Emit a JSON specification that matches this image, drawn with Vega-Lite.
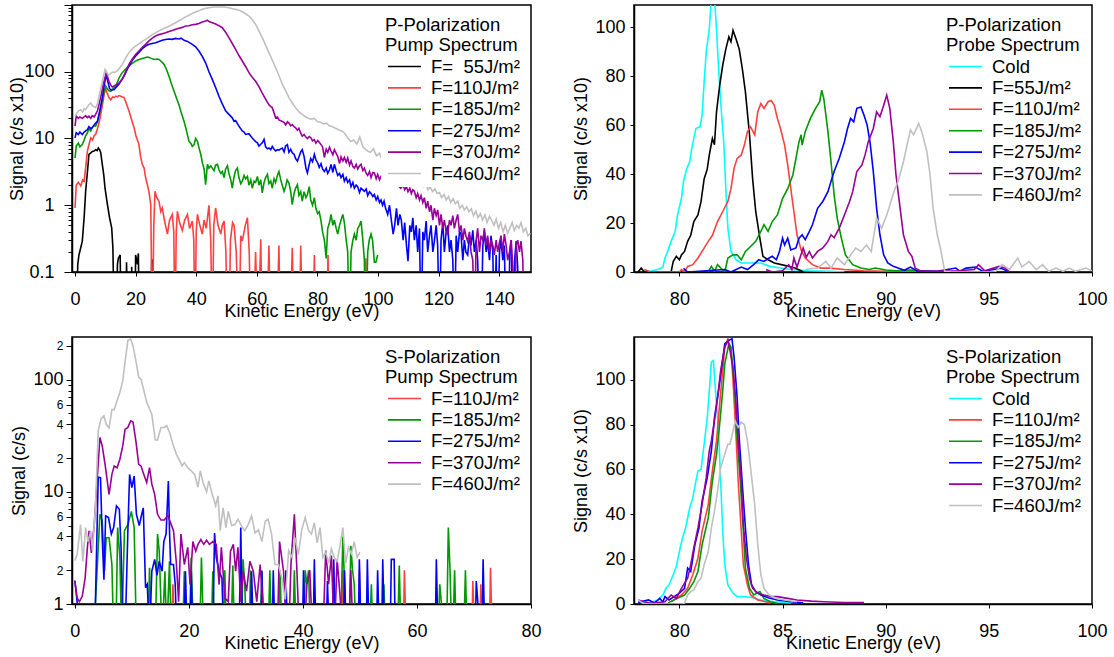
{
"$schema":"https://vega.github.io/schema/vega-lite/v6.json",
"background":"white",
"padding":{"left":8,"top":3,"right":5,"bottom":3},
"config":{"font":"Liberation Sans","view":{"stroke":"black","strokeWidth":1.5},
"axis":{"labelFont":"Liberation Sans","titleFont":"Liberation Sans","labelFontSize":18,"titleFontSize":18,"titleFontWeight":"normal","labelColor":"black","titleColor":"black","domainColor":"black","domainWidth":1.5,"tickColor":"black","tickWidth":1,"grid":false,"labelFlush":false,"labelOverlap":false},
"axisX":{"tickSize":4,"labelPadding":14.5,"titlePadding":-6.5},
"axisY":{"tickSize":4,"labelPadding":5,"titlePadding":4},
"legend":{"orient":"top-right","offset":7,"padding":4,"fillColor":"white","titleFont":"Liberation Sans","titleFontSize":18.5,"titleFontWeight":"normal","titleColor":"black","titleLineHeight":20,"titlePadding":1,"titleLimit":300,"labelFont":"Liberation Sans","labelFontSize":18.5,"labelColor":"black","labelOffset":24,"rowPadding":0.4}},
"datasets":{
"tl":[
{"s":"k","x":0.3,"y":0.01},{"s":"k","x":0.9,"y":0.13},{"s":"k","x":1.3,"y":0.18},{"s":"k","x":2.4,"y":0.29},{"s":"k","x":3,"y":0.65},{"s":"k","x":3.5,"y":1.6},{"s":"k","x":4.1,"y":3.2},{"s":"k","x":4.6,"y":5.8},{"s":"k","x":5.2,"y":6.1},{"s":"k","x":5.7,"y":6.4},{"s":"k","x":6.3,"y":6.5},{"s":"k","x":6.8,"y":6.8},{"s":"k","x":7.3,"y":6.6},{"s":"k","x":7.7,"y":7.2},{"s":"k","x":8.1,"y":6.8},{"s":"k","x":8.5,"y":6.1},{"s":"k","x":9,"y":4.1},{"s":"k","x":9.5,"y":2.8},{"s":"k","x":9.9,"y":1.8},{"s":"k","x":10.7,"y":1.02},{"s":"k","x":11.4,"y":0.65},{"s":"k","x":12.1,"y":0.46},{"s":"k","x":12.5,"y":0.23},{"s":"k","x":13,"y":0.01},{"s":"k","x":13.6,"y":0.01},{"s":"k","x":14,"y":0.13},{"s":"k","x":14.3,"y":0.16},{"s":"k","x":14.9,"y":0.18},{"s":"k","x":15.3,"y":0.01},{"s":"k","x":16.7,"y":0.01},{"s":"k","x":17,"y":0.14},{"s":"k","x":17.5,"y":0.01},{"s":"k","x":18.5,"y":0.01},{"s":"k","x":18.7,"y":0.12},{"s":"k","x":19.1,"y":0.01},{"s":"k","x":19.7,"y":0.01},{"s":"k","x":20,"y":0.18},{"s":"k","x":20.6,"y":0.13},{"s":"k","x":20.9,"y":0.19},{"s":"k","x":21.3,"y":0.01},{"s":"k","x":25,"y":0.01},{"s":"k","x":25.3,"y":0.15},{"s":"k","x":25.7,"y":0.15},{"s":"k","x":26.1,"y":0.01},
{"s":"r","x":0,"y":0.91},{"s":"r","x":0.4,"y":2.0},{"s":"r","x":1.1,"y":2.2},{"s":"r","x":1.9,"y":1.95},{"s":"r","x":2.5,"y":2.4},{"s":"r","x":3,"y":2.3},{"s":"r","x":3.6,"y":4},{"s":"r","x":4.1,"y":6.5},{"s":"r","x":4.7,"y":8.5},{"s":"r","x":5.2,"y":10.2},{"s":"r","x":5.8,"y":9.5},{"s":"r","x":6.3,"y":11},{"s":"r","x":6.8,"y":11.5},{"s":"r","x":7.4,"y":14},{"s":"r","x":8,"y":18},{"s":"r","x":8.5,"y":23},{"s":"r","x":9.1,"y":33},{"s":"r","x":9.6,"y":45},{"s":"r","x":10.1,"y":56},{"s":"r","x":10.6,"y":48},{"s":"r","x":11.2,"y":41},{"s":"r","x":11.8,"y":38},{"s":"r","x":12.4,"y":42},{"s":"r","x":12.9,"y":41},{"s":"r","x":13.5,"y":43},{"s":"r","x":14,"y":42},{"s":"r","x":14.5,"y":44},{"s":"r","x":15.1,"y":43},{"s":"r","x":15.6,"y":42},{"s":"r","x":16.2,"y":41},{"s":"r","x":16.8,"y":35},{"s":"r","x":17.3,"y":30},{"s":"r","x":17.8,"y":26},{"s":"r","x":18.4,"y":21},{"s":"r","x":19,"y":17},{"s":"r","x":19.5,"y":14.5},{"s":"r","x":20.1,"y":11},{"s":"r","x":20.6,"y":9.5},{"s":"r","x":21.1,"y":8.1},{"s":"r","x":21.6,"y":5.5},{"s":"r","x":22.2,"y":4.1},{"s":"r","x":22.8,"y":3.6},{"s":"r","x":23.3,"y":2.6},{"s":"r","x":23.9,"y":2.0},{"s":"r","x":24.4,"y":1.6},{"s":"r","x":25,"y":1.02},{"s":"r","x":25.5,"y":0.01},{"s":"r","x":26,"y":0.5},{"s":"r","x":26.4,"y":1.62},{"s":"r","x":27,"y":1.3},{"s":"r","x":27.7,"y":1.15},{"s":"r","x":28.3,"y":0.8},{"s":"r","x":28.8,"y":0.91},{"s":"r","x":29.5,"y":0.6},{"s":"r","x":30.5,"y":0.37},{"s":"r","x":31.2,"y":0.6},{"s":"r","x":32.1,"y":0.73},{"s":"r","x":32.6,"y":0.4},{"s":"r","x":33,"y":0.01},{"s":"r","x":33.4,"y":0.4},{"s":"r","x":33.8,"y":0.81},{"s":"r","x":34.5,"y":0.55},{"s":"r","x":35.4,"y":0.42},{"s":"r","x":36.2,"y":0.6},{"s":"r","x":37.1,"y":0.73},{"s":"r","x":37.8,"y":0.45},{"s":"r","x":38.7,"y":0.58},{"s":"r","x":39.2,"y":0.3},{"s":"r","x":39.6,"y":0.01},{"s":"r","x":40,"y":0.4},{"s":"r","x":40.4,"y":0.73},{"s":"r","x":41.2,"y":0.5},{"s":"r","x":42,"y":0.37},{"s":"r","x":42.6,"y":0.6},{"s":"r","x":43.3,"y":0.45},{"s":"r","x":44.2,"y":1.0},{"s":"r","x":44.8,"y":0.3},{"s":"r","x":45.3,"y":0.01},{"s":"r","x":45.8,"y":0.5},{"s":"r","x":46.4,"y":0.91},{"s":"r","x":47.2,"y":0.5},{"s":"r","x":48.1,"y":0.37},{"s":"r","x":48.6,"y":0.5},{"s":"r","x":49.2,"y":0.58},{"s":"r","x":49.8,"y":0.2},{"s":"r","x":50.3,"y":0.01},{"s":"r","x":50.8,"y":0.01},{"s":"r","x":51.3,"y":0.3},{"s":"r","x":52,"y":0.55},{"s":"r","x":52.5,"y":0.5},{"s":"r","x":53.2,"y":0.2},{"s":"r","x":54.1,"y":0.01},{"s":"r","x":54.7,"y":0.35},{"s":"r","x":55.2,"y":0.29},{"s":"r","x":56.2,"y":0.5},{"s":"r","x":56.9,"y":0.65},{"s":"r","x":57.5,"y":0.2},{"s":"r","x":58,"y":0.01},{"s":"r","x":58.8,"y":0.01},{"s":"r","x":59.6,"y":0.2},{"s":"r","x":60.4,"y":0.01},{"s":"r","x":61.3,"y":0.31},{"s":"r","x":61.8,"y":0.01},{"s":"r","x":63.3,"y":0.01},{"s":"r","x":64,"y":0.25},{"s":"r","x":64.6,"y":0.01},{"s":"r","x":66.5,"y":0.01},{"s":"r","x":67.3,"y":0.25},{"s":"r","x":67.8,"y":0.01},{"s":"r","x":71,"y":0.01},{"s":"r","x":71.7,"y":0.23},{"s":"r","x":72.3,"y":0.01},{"s":"r","x":74,"y":0.01},{"s":"r","x":74.5,"y":0.25},{"s":"r","x":75.1,"y":0.01},{"s":"r","x":78.5,"y":0.01},{"s":"r","x":79,"y":0.18},{"s":"r","x":79.5,"y":0.01},{"s":"r","x":83,"y":0.01},{"s":"r","x":83.5,"y":0.18},{"s":"r","x":84,"y":0.01},{"s":"r","x":95.5,"y":0.01},{"s":"r","x":96,"y":0.16},{"s":"r","x":96.5,"y":0.01},
{"s":"g","x":0,"y":5.1},{"s":"g","x":0.4,"y":7.7},{"s":"g","x":1.1,"y":8.5},{"s":"g","x":1.6,"y":7.5},{"s":"g","x":2.4,"y":8.1},{"s":"g","x":3,"y":9.5},{"s":"g","x":3.5,"y":11},{"s":"g","x":4.1,"y":12.2},{"s":"g","x":4.6,"y":14},{"s":"g","x":5.2,"y":13},{"s":"g","x":5.7,"y":14.6},{"s":"g","x":6.3,"y":15.5},{"s":"g","x":6.8,"y":15.3},{"s":"g","x":7.4,"y":18},{"s":"g","x":8,"y":23},{"s":"g","x":8.5,"y":29},{"s":"g","x":9.1,"y":38},{"s":"g","x":9.6,"y":50},{"s":"g","x":10.1,"y":61},{"s":"g","x":10.7,"y":55},{"s":"g","x":11.2,"y":52},{"s":"g","x":11.8,"y":51},{"s":"g","x":12.4,"y":55},{"s":"g","x":12.9,"y":58},{"s":"g","x":13.4,"y":61},{"s":"g","x":14,"y":70},{"s":"g","x":14.5,"y":80},{"s":"g","x":15.1,"y":90},{"s":"g","x":15.6,"y":97},{"s":"g","x":16.7,"y":110},{"s":"g","x":17.8,"y":122},{"s":"g","x":18.9,"y":133},{"s":"g","x":20,"y":145},{"s":"g","x":21.1,"y":152},{"s":"g","x":22.2,"y":158},{"s":"g","x":23.3,"y":163},{"s":"g","x":23.9,"y":166},{"s":"g","x":24.5,"y":164},{"s":"g","x":25,"y":160},{"s":"g","x":26.1,"y":153},{"s":"g","x":27.2,"y":155},{"s":"g","x":27.7,"y":153},{"s":"g","x":28.3,"y":145},{"s":"g","x":28.8,"y":138},{"s":"g","x":29.4,"y":129},{"s":"g","x":30.2,"y":108},{"s":"g","x":31,"y":86},{"s":"g","x":31.8,"y":66},{"s":"g","x":32.7,"y":51},{"s":"g","x":33.5,"y":40},{"s":"g","x":34.3,"y":32},{"s":"g","x":35.1,"y":24},{"s":"g","x":36,"y":18},{"s":"g","x":36.8,"y":13},{"s":"g","x":37.6,"y":9.1},{"s":"g","x":38.2,"y":8.5},{"s":"g","x":38.7,"y":7.6},{"s":"g","x":39.3,"y":8.1},{"s":"g","x":39.8,"y":10},{"s":"g","x":40.4,"y":9.1},{"s":"g","x":41,"y":7},{"s":"g","x":41.5,"y":5.8},{"s":"g","x":42.1,"y":4.2},{"s":"g","x":42.6,"y":3.5},{"s":"g","x":43.1,"y":2.04},{"s":"g","x":43.7,"y":4.1},{"s":"g","x":44.2,"y":3.6},{"s":"g","x":44.8,"y":3.9},{"s":"g","x":45.3,"y":3.6},{"s":"g","x":45.9,"y":3.3},{"s":"g","x":46.4,"y":4.0},{"s":"g","x":47,"y":4.1},{"s":"g","x":47.5,"y":3.4},{"s":"g","x":48.1,"y":3.0},{"s":"g","x":48.6,"y":3.2},{"s":"g","x":49.2,"y":2.6},{"s":"g","x":49.7,"y":3.5},{"s":"g","x":50.3,"y":3.9},{"s":"g","x":50.8,"y":3.0},{"s":"g","x":51.4,"y":2.4},{"s":"g","x":51.9,"y":1.8},{"s":"g","x":52.5,"y":2.7},{"s":"g","x":53,"y":3.3},{"s":"g","x":53.6,"y":3.6},{"s":"g","x":54.1,"y":2.6},{"s":"g","x":54.7,"y":2.1},{"s":"g","x":55.2,"y":2.3},{"s":"g","x":55.8,"y":2.8},{"s":"g","x":56.3,"y":2.5},{"s":"g","x":56.9,"y":2.7},{"s":"g","x":57.4,"y":2.0},{"s":"g","x":58,"y":2.4},{"s":"g","x":58.5,"y":1.8},{"s":"g","x":59.1,"y":2.3},{"s":"g","x":59.6,"y":2.2},{"s":"g","x":60.2,"y":2.7},{"s":"g","x":60.7,"y":2.0},{"s":"g","x":61.3,"y":2.4},{"s":"g","x":61.8,"y":1.53},{"s":"g","x":62.4,"y":2.2},{"s":"g","x":62.9,"y":2.6},{"s":"g","x":63.5,"y":2.9},{"s":"g","x":64,"y":2.1},{"s":"g","x":64.6,"y":2.3},{"s":"g","x":65.1,"y":1.8},{"s":"g","x":65.7,"y":2.5},{"s":"g","x":66.2,"y":2.2},{"s":"g","x":66.8,"y":2.8},{"s":"g","x":67.3,"y":3.2},{"s":"g","x":67.9,"y":2.4},{"s":"g","x":68.4,"y":2.0},{"s":"g","x":69,"y":1.62},{"s":"g","x":69.5,"y":1.9},{"s":"g","x":70,"y":2.4},{"s":"g","x":70.6,"y":2.15},{"s":"g","x":71.2,"y":1.6},{"s":"g","x":71.7,"y":1.02},{"s":"g","x":72.3,"y":1.5},{"s":"g","x":72.8,"y":1.8},{"s":"g","x":73.4,"y":2.04},{"s":"g","x":73.9,"y":1.4},{"s":"g","x":74.5,"y":1.6},{"s":"g","x":75,"y":1.15},{"s":"g","x":75.6,"y":1.6},{"s":"g","x":76.2,"y":1.3},{"s":"g","x":76.7,"y":1.45},{"s":"g","x":77.3,"y":1.9},{"s":"g","x":77.8,"y":1.2},{"s":"g","x":78.4,"y":1.0},{"s":"g","x":79,"y":1.3},{"s":"g","x":79.5,"y":0.9},{"s":"g","x":80.1,"y":0.75},{"s":"g","x":80.6,"y":0.8},{"s":"g","x":81.2,"y":0.58},{"s":"g","x":81.7,"y":0.4},{"s":"g","x":82.3,"y":0.3},{"s":"g","x":82.9,"y":0.16},{"s":"g","x":83.4,"y":0.45},{"s":"g","x":84,"y":0.55},{"s":"g","x":84.5,"y":0.73},{"s":"g","x":85.1,"y":0.5},{"s":"g","x":85.6,"y":0.6},{"s":"g","x":86.2,"y":0.45},{"s":"g","x":86.7,"y":0.37},{"s":"g","x":87.3,"y":0.5},{"s":"g","x":87.8,"y":0.6},{"s":"g","x":88.4,"y":0.73},{"s":"g","x":88.9,"y":0.55},{"s":"g","x":89.5,"y":0.3},{"s":"g","x":90,"y":0.2},{"s":"g","x":90.6,"y":0.01},{"s":"g","x":91.1,"y":0.2},{"s":"g","x":91.7,"y":0.3},{"s":"g","x":92.2,"y":0.37},{"s":"g","x":92.8,"y":0.3},{"s":"g","x":93.3,"y":0.45},{"s":"g","x":93.9,"y":0.5},{"s":"g","x":94.4,"y":0.58},{"s":"g","x":95,"y":0.3},{"s":"g","x":95.5,"y":0.15},{"s":"g","x":96,"y":0.01},{"s":"g","x":96.6,"y":0.2},{"s":"g","x":97.1,"y":0.3},{"s":"g","x":97.7,"y":0.37},{"s":"g","x":98.2,"y":0.3},{"s":"g","x":98.8,"y":0.14},{"s":"g","x":99.3,"y":0.14},{"s":"g","x":99.9,"y":0.18},
{"s":"b","x":0,"y":10.2},{"s":"b","x":0.4,"y":12.2},{"s":"b","x":1.1,"y":11.5},{"s":"b","x":1.6,"y":12.5},{"s":"b","x":2.4,"y":11.5},{"s":"b","x":3,"y":12.5},{"s":"b","x":3.5,"y":13},{"s":"b","x":4.1,"y":13.6},{"s":"b","x":4.6,"y":15},{"s":"b","x":5.2,"y":14},{"s":"b","x":5.7,"y":14.6},{"s":"b","x":6.3,"y":16},{"s":"b","x":6.8,"y":17},{"s":"b","x":7.4,"y":18},{"s":"b","x":8,"y":24},{"s":"b","x":8.5,"y":31},{"s":"b","x":9,"y":41},{"s":"b","x":9.6,"y":62},{"s":"b","x":10.3,"y":91},{"s":"b","x":10.8,"y":72},{"s":"b","x":11.4,"y":56},{"s":"b","x":12,"y":53},{"s":"b","x":12.9,"y":54},{"s":"b","x":13.5,"y":58},{"s":"b","x":14.5,"y":65},{"s":"b","x":15.3,"y":75},{"s":"b","x":16.2,"y":86},{"s":"b","x":17,"y":103},{"s":"b","x":17.8,"y":122},{"s":"b","x":18.9,"y":148},{"s":"b","x":20,"y":172},{"s":"b","x":21.1,"y":195},{"s":"b","x":22.2,"y":222},{"s":"b","x":23.3,"y":243},{"s":"b","x":24.4,"y":258},{"s":"b","x":25.5,"y":265},{"s":"b","x":26.6,"y":272},{"s":"b","x":27.7,"y":285},{"s":"b","x":28.8,"y":296},{"s":"b","x":29.9,"y":305},{"s":"b","x":31,"y":310},{"s":"b","x":32.1,"y":306},{"s":"b","x":33.2,"y":316},{"s":"b","x":34.3,"y":310},{"s":"b","x":35,"y":318},{"s":"b","x":36,"y":295},{"s":"b","x":37.1,"y":285},{"s":"b","x":38.7,"y":257},{"s":"b","x":39.8,"y":236},{"s":"b","x":40.9,"y":204},{"s":"b","x":42,"y":170},{"s":"b","x":43.1,"y":136},{"s":"b","x":44.2,"y":100},{"s":"b","x":45.3,"y":77},{"s":"b","x":46.4,"y":58},{"s":"b","x":47.5,"y":43},{"s":"b","x":48.6,"y":33},{"s":"b","x":49.7,"y":26},{"s":"b","x":50.8,"y":23},{"s":"b","x":51.9,"y":20.4},{"s":"b","x":52.5,"y":18},{"s":"b","x":53,"y":18.5},{"s":"b","x":54.1,"y":15.3},{"s":"b","x":55.2,"y":13},{"s":"b","x":55.8,"y":12.5},{"s":"b","x":56.3,"y":11.5},{"s":"b","x":57.4,"y":11.8},{"s":"b","x":58.5,"y":10.2},{"s":"b","x":59.1,"y":9.5},{"s":"b","x":59.6,"y":9.0},{"s":"b","x":60.2,"y":8.6},{"s":"b","x":60.7,"y":7.7},{"s":"b","x":61.3,"y":8.2},{"s":"b","x":61.8,"y":8.6},{"s":"b","x":62.4,"y":9.7},{"s":"b","x":62.9,"y":7.5},{"s":"b","x":63.5,"y":7.0},{"s":"b","x":64,"y":7.2},{"s":"b","x":64.6,"y":6.8},{"s":"b","x":65.1,"y":7.6},{"s":"b","x":65.7,"y":6.9},{"s":"b","x":66.2,"y":6.5},{"s":"b","x":66.8,"y":6.8},{"s":"b","x":67.3,"y":6.7},{"s":"b","x":67.9,"y":7.0},{"s":"b","x":68.4,"y":7.2},{"s":"b","x":69,"y":6.3},{"s":"b","x":69.5,"y":7.7},{"s":"b","x":70.1,"y":8.1},{"s":"b","x":70.6,"y":6.2},{"s":"b","x":71.2,"y":6.9},{"s":"b","x":71.7,"y":6.1},{"s":"b","x":72.3,"y":5.8},{"s":"b","x":72.8,"y":5.0},{"s":"b","x":73.4,"y":4.6},{"s":"b","x":73.9,"y":5.3},{"s":"b","x":74.5,"y":6.3},{"s":"b","x":75,"y":6.8},{"s":"b","x":75.6,"y":5.4},{"s":"b","x":76.2,"y":3.6},{"s":"b","x":76.7,"y":3.05},{"s":"b","x":77.3,"y":4.1},{"s":"b","x":77.8,"y":5.0},{"s":"b","x":78.4,"y":4.5},{"s":"b","x":79,"y":5.8},{"s":"b","x":79.5,"y":4.8},{"s":"b","x":80.1,"y":4.3},{"s":"b","x":80.6,"y":3.7},{"s":"b","x":81.2,"y":4.2},{"s":"b","x":81.7,"y":3.5},{"s":"b","x":82.3,"y":3.2},{"s":"b","x":82.9,"y":3.6},{"s":"b","x":83.4,"y":3.0},{"s":"b","x":84,"y":3.4},{"s":"b","x":84.5,"y":4.1},{"s":"b","x":85.1,"y":3.1},{"s":"b","x":85.6,"y":4.1},{"s":"b","x":86.2,"y":3.3},{"s":"b","x":86.7,"y":2.8},{"s":"b","x":87.3,"y":3.0},{"s":"b","x":87.8,"y":2.6},{"s":"b","x":88.4,"y":2.9},{"s":"b","x":88.9,"y":2.3},{"s":"b","x":89.5,"y":2.6},{"s":"b","x":90,"y":2.2},{"s":"b","x":90.6,"y":2.4},{"s":"b","x":91.1,"y":1.9},{"s":"b","x":91.7,"y":2.2},{"s":"b","x":92.2,"y":1.8},{"s":"b","x":92.8,"y":2.0},{"s":"b","x":93.3,"y":1.9},{"s":"b","x":93.9,"y":1.55},{"s":"b","x":94.4,"y":1.8},{"s":"b","x":95,"y":1.7},{"s":"b","x":95.5,"y":1.62},{"s":"b","x":96.1,"y":1.75},{"s":"b","x":96.6,"y":1.4},{"s":"b","x":97.2,"y":1.6},{"s":"b","x":97.7,"y":1.5},{"s":"b","x":98.3,"y":1.35},{"s":"b","x":98.8,"y":1.45},{"s":"b","x":99.4,"y":1.2},{"s":"b","x":99.9,"y":1.35},{"s":"b","x":100.5,"y":1.1},{"s":"b","x":101,"y":1.2},{"s":"b","x":101.5,"y":1.0},{"s":"b","x":102,"y":1.15},{"s":"b","x":102.5,"y":0.9},{"s":"b","x":103.2,"y":0.73},{"s":"b","x":103.8,"y":1.0},{"s":"b","x":104.4,"y":0.6},{"s":"b","x":105,"y":0.37},{"s":"b","x":105.5,"y":0.5},{"s":"b","x":106.1,"y":0.9},{"s":"b","x":106.6,"y":0.5},{"s":"b","x":107.2,"y":0.73},{"s":"b","x":107.7,"y":0.6},{"s":"b","x":108.3,"y":0.3},{"s":"b","x":108.8,"y":0.55},{"s":"b","x":109.4,"y":0.25},{"s":"b","x":109.9,"y":0.145},{"s":"b","x":110.5,"y":0.5},{"s":"b","x":111,"y":0.4},{"s":"b","x":111.5,"y":0.65},{"s":"b","x":112,"y":0.3},{"s":"b","x":112.6,"y":0.5},{"s":"b","x":113.1,"y":0.2},{"s":"b","x":113.7,"y":0.45},{"s":"b","x":114.2,"y":0.01},{"s":"b","x":114.8,"y":0.4},{"s":"b","x":115.3,"y":0.3},{"s":"b","x":115.9,"y":0.58},{"s":"b","x":116.4,"y":0.2},{"s":"b","x":117,"y":0.35},{"s":"b","x":117.5,"y":0.5},{"s":"b","x":118.1,"y":0.2},{"s":"b","x":118.6,"y":0.29},{"s":"b","x":119.2,"y":0.5},{"s":"b","x":119.7,"y":0.25},{"s":"b","x":120.3,"y":0.01},{"s":"b","x":120.8,"y":0.3},{"s":"b","x":121.4,"y":0.55},{"s":"b","x":121.9,"y":0.2},{"s":"b","x":122.5,"y":0.4},{"s":"b","x":123,"y":0.5},{"s":"b","x":123.6,"y":0.2},{"s":"b","x":124.1,"y":0.3},{"s":"b","x":124.7,"y":0.15},{"s":"b","x":125.2,"y":0.01},{"s":"b","x":125.8,"y":0.35},{"s":"b","x":126.3,"y":0.2},{"s":"b","x":126.9,"y":0.4},{"s":"b","x":127.4,"y":0.37},{"s":"b","x":128,"y":0.15},{"s":"b","x":128.5,"y":0.3},{"s":"b","x":129,"y":0.2},{"s":"b","x":129.6,"y":0.18},{"s":"b","x":130.2,"y":0.35},{"s":"b","x":130.7,"y":0.25},{"s":"b","x":131.3,"y":0.42},{"s":"b","x":131.8,"y":0.2},{"s":"b","x":132.4,"y":0.3},{"s":"b","x":132.9,"y":0.15},{"s":"b","x":133.5,"y":0.01},{"s":"b","x":134,"y":0.01},{"s":"b","x":134.6,"y":0.25},{"s":"b","x":135.1,"y":0.4},{"s":"b","x":135.7,"y":0.2},{"s":"b","x":136.2,"y":0.29},{"s":"b","x":136.8,"y":0.15},{"s":"b","x":137.3,"y":0.35},{"s":"b","x":137.9,"y":0.2},{"s":"b","x":138.4,"y":0.01},{"s":"b","x":139,"y":0.18},{"s":"b","x":139.5,"y":0.01},{"s":"b","x":140.1,"y":0.2},{"s":"b","x":140.6,"y":0.3},{"s":"b","x":141.2,"y":0.15},{"s":"b","x":141.7,"y":0.25},{"s":"b","x":142.3,"y":0.01},{"s":"b","x":143,"y":0.01},{"s":"b","x":143.5,"y":0.2},{"s":"b","x":144,"y":0.3},{"s":"b","x":144.5,"y":0.01},{"s":"b","x":145.1,"y":0.15},{"s":"b","x":145.6,"y":0.29},{"s":"b","x":146.1,"y":0.12},{"s":"b","x":146.7,"y":0.01},
{"s":"p","x":0,"y":15.3},{"s":"p","x":0.4,"y":21.6},{"s":"p","x":1.1,"y":20},{"s":"p","x":1.6,"y":21},{"s":"p","x":2.4,"y":20},{"s":"p","x":3,"y":21},{"s":"p","x":3.5,"y":22},{"s":"p","x":4.1,"y":20.5},{"s":"p","x":4.6,"y":21.6},{"s":"p","x":5.2,"y":20},{"s":"p","x":5.7,"y":22},{"s":"p","x":6.3,"y":21},{"s":"p","x":6.8,"y":23},{"s":"p","x":7.4,"y":26},{"s":"p","x":7.9,"y":32},{"s":"p","x":8.5,"y":42},{"s":"p","x":9,"y":55},{"s":"p","x":9.6,"y":72},{"s":"p","x":10.3,"y":97},{"s":"p","x":10.8,"y":82},{"s":"p","x":11.2,"y":72},{"s":"p","x":11.8,"y":63},{"s":"p","x":12.3,"y":59},{"s":"p","x":13,"y":62},{"s":"p","x":14,"y":65},{"s":"p","x":14.8,"y":70},{"s":"p","x":15.6,"y":77},{"s":"p","x":16.7,"y":100},{"s":"p","x":17.8,"y":129},{"s":"p","x":18.9,"y":155},{"s":"p","x":20,"y":182},{"s":"p","x":21.1,"y":205},{"s":"p","x":22.2,"y":232},{"s":"p","x":23.3,"y":257},{"s":"p","x":24.4,"y":290},{"s":"p","x":25.5,"y":320},{"s":"p","x":26.6,"y":343},{"s":"p","x":27.7,"y":360},{"s":"p","x":28.8,"y":372},{"s":"p","x":29.9,"y":385},{"s":"p","x":31,"y":400},{"s":"p","x":32.1,"y":415},{"s":"p","x":33.2,"y":432},{"s":"p","x":34.3,"y":450},{"s":"p","x":35.4,"y":462},{"s":"p","x":36.5,"y":484},{"s":"p","x":37.6,"y":490},{"s":"p","x":38.7,"y":505},{"s":"p","x":39.8,"y":513},{"s":"p","x":40.9,"y":530},{"s":"p","x":42,"y":555},{"s":"p","x":43.1,"y":575},{"s":"p","x":43.7,"y":590},{"s":"p","x":44.2,"y":565},{"s":"p","x":45.3,"y":543},{"s":"p","x":46.4,"y":520},{"s":"p","x":47.5,"y":490},{"s":"p","x":48.6,"y":457},{"s":"p","x":49.7,"y":390},{"s":"p","x":50.8,"y":324},{"s":"p","x":51.9,"y":265},{"s":"p","x":53,"y":216},{"s":"p","x":54.1,"y":175},{"s":"p","x":55.2,"y":145},{"s":"p","x":56.3,"y":120},{"s":"p","x":57.4,"y":97},{"s":"p","x":58.5,"y":83},{"s":"p","x":59.6,"y":72},{"s":"p","x":60.7,"y":60},{"s":"p","x":61.8,"y":48},{"s":"p","x":62.9,"y":39},{"s":"p","x":64,"y":32},{"s":"p","x":64.6,"y":30},{"s":"p","x":65.1,"y":29},{"s":"p","x":65.7,"y":24},{"s":"p","x":66.2,"y":20.4},{"s":"p","x":66.8,"y":21},{"s":"p","x":67.3,"y":19},{"s":"p","x":67.9,"y":18.5},{"s":"p","x":68.4,"y":18},{"s":"p","x":69,"y":17.5},{"s":"p","x":69.5,"y":16},{"s":"p","x":70.1,"y":17.8},{"s":"p","x":70.6,"y":17},{"s":"p","x":71.2,"y":15.5},{"s":"p","x":71.7,"y":16.2},{"s":"p","x":72.3,"y":15},{"s":"p","x":72.8,"y":14.5},{"s":"p","x":73.4,"y":13.3},{"s":"p","x":73.9,"y":14.2},{"s":"p","x":74.5,"y":12},{"s":"p","x":75,"y":10.8},{"s":"p","x":75.6,"y":11.5},{"s":"p","x":76.2,"y":10.5},{"s":"p","x":76.7,"y":10},{"s":"p","x":77.3,"y":10.7},{"s":"p","x":77.9,"y":10.2},{"s":"p","x":78.4,"y":9.2},{"s":"p","x":79,"y":9.6},{"s":"p","x":79.5,"y":8.5},{"s":"p","x":80.1,"y":9.3},{"s":"p","x":80.6,"y":8.8},{"s":"p","x":81.2,"y":8.1},{"s":"p","x":81.7,"y":7.5},{"s":"p","x":82.3,"y":5.2},{"s":"p","x":82.9,"y":6.9},{"s":"p","x":83.4,"y":6.2},{"s":"p","x":84,"y":7.4},{"s":"p","x":84.5,"y":6.5},{"s":"p","x":85.1,"y":5.7},{"s":"p","x":85.6,"y":6.8},{"s":"p","x":86.2,"y":6.0},{"s":"p","x":86.7,"y":5.4},{"s":"p","x":87.3,"y":4.2},{"s":"p","x":87.8,"y":5.3},{"s":"p","x":88.4,"y":4.6},{"s":"p","x":88.9,"y":5.2},{"s":"p","x":89.5,"y":4.4},{"s":"p","x":90,"y":5.1},{"s":"p","x":90.6,"y":4.0},{"s":"p","x":91.1,"y":4.6},{"s":"p","x":91.7,"y":3.8},{"s":"p","x":92.2,"y":3.6},{"s":"p","x":92.8,"y":4.1},{"s":"p","x":93.3,"y":3.5},{"s":"p","x":93.9,"y":3.9},{"s":"p","x":94.4,"y":4.1},{"s":"p","x":95,"y":3.3},{"s":"p","x":95.5,"y":3.6},{"s":"p","x":96.1,"y":3.0},{"s":"p","x":96.6,"y":2.8},{"s":"p","x":97.2,"y":3.2},{"s":"p","x":97.7,"y":2.6},{"s":"p","x":98.3,"y":3.1},{"s":"p","x":98.8,"y":3.05},{"s":"p","x":99.4,"y":2.5},{"s":"p","x":99.9,"y":2.9},{"s":"p","x":100.5,"y":2.4},{"s":"p","x":101,"y":2.7},{"s":"p","x":101.5,"y":2.3},{"s":"p","x":102,"y":2.6},{"s":"p","x":103,"y":2.3},{"s":"p","x":104,"y":2.5},{"s":"p","x":105,"y":2.2},{"s":"p","x":106,"y":2.0},{"s":"p","x":107,"y":1.9},{"s":"p","x":107.5,"y":1.8},{"s":"p","x":108.3,"y":2.0},{"s":"p","x":108.8,"y":1.7},{"s":"p","x":109.4,"y":1.9},{"s":"p","x":109.9,"y":1.6},{"s":"p","x":110.5,"y":1.8},{"s":"p","x":111,"y":1.5},{"s":"p","x":111.5,"y":1.7},{"s":"p","x":112,"y":1.62},{"s":"p","x":112.6,"y":1.3},{"s":"p","x":113.1,"y":1.5},{"s":"p","x":113.7,"y":1.2},{"s":"p","x":114.2,"y":1.4},{"s":"p","x":114.8,"y":1.1},{"s":"p","x":115.3,"y":1.3},{"s":"p","x":115.9,"y":0.9},{"s":"p","x":116.4,"y":1.15},{"s":"p","x":117,"y":0.8},{"s":"p","x":117.5,"y":1.0},{"s":"p","x":118.1,"y":0.6},{"s":"p","x":118.6,"y":0.9},{"s":"p","x":119.2,"y":0.7},{"s":"p","x":119.7,"y":0.85},{"s":"p","x":120.3,"y":0.5},{"s":"p","x":120.8,"y":0.73},{"s":"p","x":121.4,"y":0.45},{"s":"p","x":121.9,"y":0.6},{"s":"p","x":122.5,"y":0.4},{"s":"p","x":123,"y":0.37},{"s":"p","x":123.6,"y":0.6},{"s":"p","x":124.1,"y":0.5},{"s":"p","x":124.7,"y":0.7},{"s":"p","x":125.2,"y":0.45},{"s":"p","x":125.8,"y":0.6},{"s":"p","x":126.3,"y":0.73},{"s":"p","x":126.9,"y":0.4},{"s":"p","x":127.4,"y":0.5},{"s":"p","x":128,"y":0.3},{"s":"p","x":128.5,"y":0.45},{"s":"p","x":129,"y":0.35},{"s":"p","x":129.6,"y":0.29},{"s":"p","x":130.2,"y":0.4},{"s":"p","x":130.7,"y":0.2},{"s":"p","x":131.3,"y":0.15},{"s":"p","x":131.8,"y":0.01},{"s":"p","x":132.4,"y":0.3},{"s":"p","x":132.9,"y":0.45},{"s":"p","x":133.5,"y":0.2},{"s":"p","x":134,"y":0.35},{"s":"p","x":134.6,"y":0.3},{"s":"p","x":135.1,"y":0.45},{"s":"p","x":135.7,"y":0.25},{"s":"p","x":136.2,"y":0.35},{"s":"p","x":136.8,"y":0.2},{"s":"p","x":137.3,"y":0.3},{"s":"p","x":137.9,"y":0.25},{"s":"p","x":138.4,"y":0.18},{"s":"p","x":139,"y":0.3},{"s":"p","x":139.5,"y":0.2},{"s":"p","x":140.1,"y":0.28},{"s":"p","x":140.6,"y":0.35},{"s":"p","x":141.2,"y":0.2},{"s":"p","x":141.7,"y":0.37},{"s":"p","x":142.3,"y":0.25},{"s":"p","x":142.8,"y":0.15},{"s":"p","x":143.4,"y":0.2},{"s":"p","x":143.9,"y":0.3},{"s":"p","x":144.5,"y":0.12},{"s":"p","x":145,"y":0.01},{"s":"p","x":145.6,"y":0.25},{"s":"p","x":146.1,"y":0.3},{"s":"p","x":146.7,"y":0.2},{"s":"p","x":147.2,"y":0.29},{"s":"p","x":147.8,"y":0.15},{"s":"p","x":148.3,"y":0.01},
{"s":"w","x":0,"y":21.6},{"s":"w","x":0.6,"y":24},{"s":"w","x":1.1,"y":26},{"s":"w","x":1.9,"y":27},{"s":"w","x":2.5,"y":25},{"s":"w","x":3,"y":28},{"s":"w","x":3.5,"y":27},{"s":"w","x":4,"y":29.5},{"s":"w","x":4.6,"y":32},{"s":"w","x":5.2,"y":34},{"s":"w","x":5.7,"y":31},{"s":"w","x":6.3,"y":30},{"s":"w","x":6.8,"y":29},{"s":"w","x":7.4,"y":33},{"s":"w","x":7.9,"y":42},{"s":"w","x":8.5,"y":57},{"s":"w","x":9,"y":72},{"s":"w","x":9.6,"y":95},{"s":"w","x":9.9,"y":108},{"s":"w","x":10.4,"y":100},{"s":"w","x":11,"y":89},{"s":"w","x":11.6,"y":92},{"s":"w","x":12.3,"y":99},{"s":"w","x":13,"y":97},{"s":"w","x":14,"y":104},{"s":"w","x":14.8,"y":115},{"s":"w","x":15.6,"y":129},{"s":"w","x":16.7,"y":160},{"s":"w","x":17.8,"y":193},{"s":"w","x":18.9,"y":220},{"s":"w","x":20,"y":243},{"s":"w","x":21.1,"y":262},{"s":"w","x":22.2,"y":285},{"s":"w","x":23.3,"y":305},{"s":"w","x":24.4,"y":330},{"s":"w","x":25.5,"y":360},{"s":"w","x":26.6,"y":385},{"s":"w","x":27.7,"y":410},{"s":"w","x":28.8,"y":432},{"s":"w","x":29.9,"y":457},{"s":"w","x":31,"y":480},{"s":"w","x":32.1,"y":510},{"s":"w","x":33.2,"y":543},{"s":"w","x":34.3,"y":580},{"s":"w","x":35.4,"y":620},{"s":"w","x":36.5,"y":661},{"s":"w","x":37.6,"y":700},{"s":"w","x":38.7,"y":745},{"s":"w","x":39.8,"y":785},{"s":"w","x":40.9,"y":820},{"s":"w","x":42,"y":860},{"s":"w","x":43.1,"y":891},{"s":"w","x":44.2,"y":910},{"s":"w","x":45.3,"y":925},{"s":"w","x":46.4,"y":935},{"s":"w","x":47.5,"y":933},{"s":"w","x":48.6,"y":935},{"s":"w","x":49.7,"y":925},{"s":"w","x":50.8,"y":912},{"s":"w","x":52,"y":880},{"s":"w","x":53,"y":860},{"s":"w","x":54.1,"y":832},{"s":"w","x":55.2,"y":790},{"s":"w","x":56.3,"y":740},{"s":"w","x":57.4,"y":684},{"s":"w","x":58.5,"y":600},{"s":"w","x":59.6,"y":513},{"s":"w","x":60.7,"y":410},{"s":"w","x":61.8,"y":324},{"s":"w","x":62.9,"y":250},{"s":"w","x":64,"y":193},{"s":"w","x":65.1,"y":150},{"s":"w","x":66.2,"y":115},{"s":"w","x":67.3,"y":88},{"s":"w","x":68.4,"y":65},{"s":"w","x":69.5,"y":52},{"s":"w","x":70.6,"y":41},{"s":"w","x":71.7,"y":34},{"s":"w","x":72.8,"y":29},{"s":"w","x":73.9,"y":25},{"s":"w","x":75,"y":23},{"s":"w","x":76.1,"y":21},{"s":"w","x":77.8,"y":19.5},{"s":"w","x":79,"y":20},{"s":"w","x":80,"y":18},{"s":"w","x":81,"y":17.5},{"s":"w","x":82,"y":16.5},{"s":"w","x":83,"y":17},{"s":"w","x":84,"y":15.5},{"s":"w","x":85,"y":15},{"s":"w","x":86,"y":14.2},{"s":"w","x":87,"y":13.5},{"s":"w","x":88,"y":13},{"s":"w","x":89,"y":12},{"s":"w","x":90,"y":10.2},{"s":"w","x":91,"y":9},{"s":"w","x":92,"y":9.5},{"s":"w","x":93,"y":8.3},{"s":"w","x":94,"y":10.5},{"s":"w","x":95,"y":7.5},{"s":"w","x":96,"y":6.8},{"s":"w","x":96.6,"y":6.5},{"s":"w","x":97.5,"y":6.2},{"s":"w","x":98.5,"y":7.0},{"s":"w","x":99.5,"y":5.5},{"s":"w","x":100.5,"y":6.0},{"s":"w","x":101,"y":5.2},{"s":"w","x":101.5,"y":4.8},{"s":"w","x":102,"y":4.6},{"s":"w","x":103,"y":4.2},{"s":"w","x":104,"y":3.9},{"s":"w","x":105,"y":3.6},{"s":"w","x":106,"y":3.3},{"s":"w","x":107,"y":3.1},{"s":"w","x":108,"y":2.9},{"s":"w","x":109,"y":2.7},{"s":"w","x":110,"y":2.5},{"s":"w","x":111,"y":2.3},{"s":"w","x":112,"y":2.2},{"s":"w","x":113,"y":2.1},{"s":"w","x":114,"y":2.0},{"s":"w","x":115,"y":1.9},{"s":"w","x":115.8,"y":2.1},{"s":"w","x":116.5,"y":1.7},{"s":"w","x":117.2,"y":1.9},{"s":"w","x":118,"y":1.6},{"s":"w","x":118.8,"y":1.75},{"s":"w","x":119.5,"y":1.5},{"s":"w","x":120.3,"y":1.55},{"s":"w","x":121,"y":1.3},{"s":"w","x":121.8,"y":1.45},{"s":"w","x":122.5,"y":1.2},{"s":"w","x":123.3,"y":1.35},{"s":"w","x":124,"y":1.1},{"s":"w","x":124.8,"y":1.25},{"s":"w","x":125.5,"y":1.05},{"s":"w","x":126.3,"y":1.15},{"s":"w","x":127,"y":0.9},{"s":"w","x":127.8,"y":1.0},{"s":"w","x":128.5,"y":0.85},{"s":"w","x":129.3,"y":0.95},{"s":"w","x":130,"y":0.8},{"s":"w","x":130.8,"y":0.88},{"s":"w","x":131.5,"y":0.7},{"s":"w","x":132.3,"y":0.82},{"s":"w","x":133,"y":0.65},{"s":"w","x":133.8,"y":0.75},{"s":"w","x":134.5,"y":0.6},{"s":"w","x":135.3,"y":0.72},{"s":"w","x":136,"y":0.55},{"s":"w","x":136.8,"y":0.68},{"s":"w","x":137.5,"y":0.6},{"s":"w","x":138.3,"y":0.5},{"s":"w","x":139,"y":0.62},{"s":"w","x":139.8,"y":0.45},{"s":"w","x":140.5,"y":0.55},{"s":"w","x":141.3,"y":0.4},{"s":"w","x":142,"y":0.5},{"s":"w","x":142.8,"y":0.38},{"s":"w","x":143.5,"y":0.45},{"s":"w","x":144.3,"y":0.55},{"s":"w","x":145,"y":0.42},{"s":"w","x":145.8,"y":0.5},{"s":"w","x":146.5,"y":0.45},{"s":"w","x":147.2,"y":0.55},{"s":"w","x":148,"y":0.4},{"s":"w","x":148.8,"y":0.45},{"s":"w","x":149.5,"y":0.35},{"s":"w","x":150.3,"y":0.38}
],
"tr":[
{"s":"c","x":78.3,"y":0.5},{"s":"c","x":78.6,"y":0.3},{"s":"c","x":78.95,"y":1},{"s":"c","x":79.2,"y":2},{"s":"c","x":79.3,"y":5.7},{"s":"c","x":79.4,"y":7.7},{"s":"c","x":79.6,"y":12.5},{"s":"c","x":79.8,"y":16.6},{"s":"c","x":79.9,"y":23},{"s":"c","x":80.1,"y":30},{"s":"c","x":80.2,"y":37},{"s":"c","x":80.35,"y":42},{"s":"c","x":80.5,"y":45},{"s":"c","x":80.6,"y":50.5},{"s":"c","x":80.8,"y":58.6},{"s":"c","x":81,"y":59.3},{"s":"c","x":81.1,"y":64},{"s":"c","x":81.2,"y":77.6},{"s":"c","x":81.3,"y":89.8},{"s":"c","x":81.45,"y":99.3},{"s":"c","x":81.55,"y":112},{"s":"c","x":81.7,"y":112},{"s":"c","x":81.8,"y":99},{"s":"c","x":81.9,"y":83},{"s":"c","x":82,"y":69.5},{"s":"c","x":82.15,"y":53},{"s":"c","x":82.25,"y":34},{"s":"c","x":82.35,"y":18},{"s":"c","x":82.5,"y":8.4},{"s":"c","x":82.75,"y":5},{"s":"c","x":83,"y":3.7},{"s":"c","x":83.5,"y":3.7},{"s":"c","x":83.95,"y":3.7},{"s":"c","x":84.4,"y":2.3},{"s":"c","x":84.9,"y":1.6},{"s":"c","x":85.4,"y":1},{"s":"c","x":86.2,"y":0.5},{"s":"c","x":87.3,"y":0.3},{"s":"c","x":88,"y":0},
{"s":"k","x":78,"y":0},{"s":"k","x":78.15,"y":1.6},{"s":"k","x":78.3,"y":0},{"s":"k","x":79.6,"y":0},{"s":"k","x":79.7,"y":4.3},{"s":"k","x":79.85,"y":6.4},{"s":"k","x":80,"y":5},{"s":"k","x":80.1,"y":7},{"s":"k","x":80.25,"y":8.4},{"s":"k","x":80.4,"y":12.5},{"s":"k","x":80.55,"y":15},{"s":"k","x":80.7,"y":20.6},{"s":"k","x":80.9,"y":23.3},{"s":"k","x":81.05,"y":28.8},{"s":"k","x":81.2,"y":38},{"s":"k","x":81.35,"y":42},{"s":"k","x":81.45,"y":47.8},{"s":"k","x":81.6,"y":54.5},{"s":"k","x":81.7,"y":52},{"s":"k","x":81.8,"y":65.4},{"s":"k","x":81.95,"y":76},{"s":"k","x":82.1,"y":84.4},{"s":"k","x":82.25,"y":91},{"s":"k","x":82.4,"y":96},{"s":"k","x":82.5,"y":94},{"s":"k","x":82.6,"y":98.6},{"s":"k","x":82.75,"y":95},{"s":"k","x":82.9,"y":91},{"s":"k","x":83.05,"y":83},{"s":"k","x":83.2,"y":73.5},{"s":"k","x":83.4,"y":56},{"s":"k","x":83.55,"y":38},{"s":"k","x":83.7,"y":24.7},{"s":"k","x":83.9,"y":13.8},{"s":"k","x":84.05,"y":6.4},{"s":"k","x":84.3,"y":5},{"s":"k","x":84.6,"y":3.7},{"s":"k","x":85.1,"y":2.7},{"s":"k","x":85.6,"y":1.6},{"s":"k","x":85.9,"y":0.5},{"s":"k","x":86,"y":0},
{"s":"r","x":78.3,"y":1},{"s":"r","x":78.6,"y":0},{"s":"r","x":80,"y":0},{"s":"r","x":80.1,"y":1},{"s":"r","x":80.25,"y":0},{"s":"r","x":80.4,"y":2.3},{"s":"r","x":80.65,"y":3},{"s":"r","x":80.9,"y":5.7},{"s":"r","x":81.1,"y":8.4},{"s":"r","x":81.4,"y":12.5},{"s":"r","x":81.6,"y":15},{"s":"r","x":81.85,"y":20.6},{"s":"r","x":82.1,"y":24.7},{"s":"r","x":82.35,"y":28.8},{"s":"r","x":82.5,"y":34},{"s":"r","x":82.65,"y":42.3},{"s":"r","x":82.8,"y":46.4},{"s":"r","x":83,"y":47.8},{"s":"r","x":83.15,"y":51.8},{"s":"r","x":83.3,"y":57.3},{"s":"r","x":83.45,"y":59.3},{"s":"r","x":83.65,"y":56},{"s":"r","x":83.8,"y":65.4},{"s":"r","x":83.95,"y":68.8},{"s":"r","x":84.1,"y":66.8},{"s":"r","x":84.3,"y":69.5},{"s":"r","x":84.45,"y":70},{"s":"r","x":84.6,"y":68},{"s":"r","x":84.75,"y":62.7},{"s":"r","x":84.9,"y":58.6},{"s":"r","x":85.1,"y":51.8},{"s":"r","x":85.25,"y":43.7},{"s":"r","x":85.4,"y":34},{"s":"r","x":85.55,"y":24.7},{"s":"r","x":85.7,"y":15.2},{"s":"r","x":85.9,"y":9},{"s":"r","x":86.1,"y":5.7},{"s":"r","x":86.45,"y":3},{"s":"r","x":86.85,"y":1.6},{"s":"r","x":87.3,"y":1.6},{"s":"r","x":88,"y":1},{"s":"r","x":88.95,"y":0.5},{"s":"r","x":90,"y":0.3},{"s":"r","x":91.5,"y":0.3},
{"s":"g","x":81.4,"y":0},{"s":"g","x":81.55,"y":2.3},{"s":"g","x":81.7,"y":0.3},{"s":"g","x":81.85,"y":3},{"s":"g","x":82.2,"y":0},{"s":"g","x":82.35,"y":5.7},{"s":"g","x":82.6,"y":7},{"s":"g","x":82.8,"y":7},{"s":"g","x":83,"y":5},{"s":"g","x":83.2,"y":8.4},{"s":"g","x":83.45,"y":10.4},{"s":"g","x":83.7,"y":12.5},{"s":"g","x":83.95,"y":16.6},{"s":"g","x":84.1,"y":19.3},{"s":"g","x":84.3,"y":16.6},{"s":"g","x":84.5,"y":20.6},{"s":"g","x":84.75,"y":23.3},{"s":"g","x":85,"y":30},{"s":"g","x":85.25,"y":34},{"s":"g","x":85.5,"y":39.6},{"s":"g","x":85.65,"y":46.4},{"s":"g","x":85.8,"y":53.2},{"s":"g","x":85.9,"y":56},{"s":"g","x":85.95,"y":51.8},{"s":"g","x":86.1,"y":57.3},{"s":"g","x":86.35,"y":62.7},{"s":"g","x":86.6,"y":66.8},{"s":"g","x":86.8,"y":69.5},{"s":"g","x":86.9,"y":74.2},{"s":"g","x":87,"y":70.8},{"s":"g","x":87.2,"y":57.3},{"s":"g","x":87.35,"y":45},{"s":"g","x":87.5,"y":31.5},{"s":"g","x":87.65,"y":22},{"s":"g","x":87.85,"y":13.8},{"s":"g","x":88.05,"y":7},{"s":"g","x":88.4,"y":3},{"s":"g","x":88.8,"y":1.6},{"s":"g","x":89.2,"y":1},{"s":"g","x":89.5,"y":1.6},{"s":"g","x":90,"y":0.8},{"s":"g","x":90.5,"y":0.5},{"s":"g","x":91.2,"y":0.8},{"s":"g","x":92.1,"y":0.3},{"s":"g","x":92.7,"y":0},
{"s":"b","x":80.2,"y":1.5},{"s":"b","x":80.4,"y":0},{"s":"b","x":82.2,"y":1},{"s":"b","x":82.5,"y":0},{"s":"b","x":83,"y":2},{"s":"b","x":83.3,"y":1},{"s":"b","x":83.6,"y":3},{"s":"b","x":83.85,"y":5},{"s":"b","x":84.1,"y":4.3},{"s":"b","x":84.35,"y":5.7},{"s":"b","x":84.5,"y":6.4},{"s":"b","x":84.7,"y":5},{"s":"b","x":84.85,"y":8.4},{"s":"b","x":85,"y":13.8},{"s":"b","x":85.1,"y":11},{"s":"b","x":85.25,"y":13.8},{"s":"b","x":85.4,"y":9},{"s":"b","x":85.65,"y":9.8},{"s":"b","x":85.8,"y":13.8},{"s":"b","x":85.95,"y":15.2},{"s":"b","x":86.1,"y":13.2},{"s":"b","x":86.3,"y":16.6},{"s":"b","x":86.45,"y":19.3},{"s":"b","x":86.7,"y":26},{"s":"b","x":86.95,"y":28.8},{"s":"b","x":87.2,"y":32.8},{"s":"b","x":87.35,"y":37},{"s":"b","x":87.5,"y":41},{"s":"b","x":87.75,"y":46.4},{"s":"b","x":88,"y":53.2},{"s":"b","x":88.15,"y":58.6},{"s":"b","x":88.3,"y":62.7},{"s":"b","x":88.45,"y":61.3},{"s":"b","x":88.6,"y":66.8},{"s":"b","x":88.8,"y":67.4},{"s":"b","x":88.95,"y":64},{"s":"b","x":89.1,"y":60},{"s":"b","x":89.24,"y":53},{"s":"b","x":89.4,"y":41},{"s":"b","x":89.56,"y":26},{"s":"b","x":89.72,"y":15.2},{"s":"b","x":89.9,"y":7},{"s":"b","x":90.1,"y":3.7},{"s":"b","x":90.37,"y":2.3},{"s":"b","x":90.6,"y":1.6},{"s":"b","x":90.9,"y":0.7},{"s":"b","x":91.2,"y":2},{"s":"b","x":91.5,"y":0.5},{"s":"b","x":92.5,"y":0.3},{"s":"b","x":93.4,"y":1.6},{"s":"b","x":93.6,"y":0.3},{"s":"b","x":93.9,"y":1.6},{"s":"b","x":94.35,"y":2},{"s":"b","x":94.7,"y":0.3},{"s":"b","x":95.6,"y":1.5},{"s":"b","x":96,"y":0},
{"s":"p","x":84.2,"y":1},{"s":"p","x":84.5,"y":0},{"s":"p","x":85,"y":0.5},{"s":"p","x":85.3,"y":3},{"s":"p","x":85.45,"y":1},{"s":"p","x":85.55,"y":5.7},{"s":"p","x":85.7,"y":2},{"s":"p","x":86,"y":9.8},{"s":"p","x":86.15,"y":6},{"s":"p","x":86.3,"y":8.4},{"s":"p","x":86.45,"y":5.7},{"s":"p","x":86.7,"y":8.4},{"s":"p","x":86.95,"y":9.8},{"s":"p","x":87.2,"y":12.5},{"s":"p","x":87.35,"y":15.2},{"s":"p","x":87.5,"y":14},{"s":"p","x":87.75,"y":17.9},{"s":"p","x":88,"y":23.3},{"s":"p","x":88.25,"y":28.8},{"s":"p","x":88.4,"y":32.8},{"s":"p","x":88.6,"y":41},{"s":"p","x":88.85,"y":43.7},{"s":"p","x":89,"y":47.8},{"s":"p","x":89.15,"y":53},{"s":"p","x":89.4,"y":58.6},{"s":"p","x":89.56,"y":65.4},{"s":"p","x":89.72,"y":63.4},{"s":"p","x":89.9,"y":68},{"s":"p","x":90.05,"y":72.2},{"s":"p","x":90.2,"y":66.8},{"s":"p","x":90.37,"y":53},{"s":"p","x":90.5,"y":39.6},{"s":"p","x":90.7,"y":26},{"s":"p","x":90.86,"y":15.2},{"s":"p","x":91.1,"y":8.4},{"s":"p","x":91.27,"y":6.4},{"s":"p","x":91.43,"y":1.6},{"s":"p","x":91.67,"y":0.5},{"s":"p","x":92.1,"y":0.3},{"s":"p","x":93.5,"y":0.5},{"s":"p","x":94.3,"y":1},{"s":"p","x":94.5,"y":3},{"s":"p","x":94.8,"y":0.5},{"s":"p","x":95.5,"y":2.3},{"s":"p","x":95.8,"y":1.5},{"s":"p","x":96,"y":0},
{"s":"w","x":86.1,"y":1},{"s":"w","x":86.7,"y":1.6},{"s":"w","x":87.1,"y":4.3},{"s":"w","x":87.35,"y":1.6},{"s":"w","x":87.65,"y":5.7},{"s":"w","x":88,"y":3},{"s":"w","x":88.3,"y":7},{"s":"w","x":88.55,"y":9.8},{"s":"w","x":88.8,"y":8.4},{"s":"w","x":89.07,"y":11},{"s":"w","x":89.3,"y":8.4},{"s":"w","x":89.56,"y":22},{"s":"w","x":89.8,"y":17.9},{"s":"w","x":90.05,"y":23.3},{"s":"w","x":90.3,"y":30},{"s":"w","x":90.45,"y":34},{"s":"w","x":90.6,"y":37},{"s":"w","x":90.86,"y":45},{"s":"w","x":91,"y":50.5},{"s":"w","x":91.2,"y":58},{"s":"w","x":91.35,"y":56},{"s":"w","x":91.6,"y":60.6},{"s":"w","x":91.75,"y":57.3},{"s":"w","x":92,"y":49},{"s":"w","x":92.15,"y":39.6},{"s":"w","x":92.3,"y":26},{"s":"w","x":92.5,"y":15.2},{"s":"w","x":92.65,"y":9.8},{"s":"w","x":92.86,"y":0.3},{"s":"w","x":93.2,"y":0},{"s":"w","x":95.3,"y":0},{"s":"w","x":95.65,"y":3},{"s":"w","x":96,"y":1},{"s":"w","x":96.4,"y":5.7},{"s":"w","x":96.6,"y":2},{"s":"w","x":96.95,"y":4.3},{"s":"w","x":97.3,"y":1},{"s":"w","x":97.6,"y":3},{"s":"w","x":97.9,"y":0.3},{"s":"w","x":98.25,"y":1.6},{"s":"w","x":98.6,"y":0.3},{"s":"w","x":98.9,"y":1.6},{"s":"w","x":99.2,"y":0.3},{"s":"w","x":99.7,"y":1.6},{"s":"w","x":100,"y":0.5}
],
"bl":[
{"s":"r","x":16.9,"y":0.5},{"s":"r","x":17.2,"y":1.5},{"s":"r","x":17.5,"y":0.5},{"s":"r","x":46.8,"y":0.5},{"s":"r","x":47,"y":2.0},{"s":"r","x":47.3,"y":0.5},{"s":"r","x":49.7,"y":0.5},{"s":"r","x":49.9,"y":2.0},{"s":"r","x":50.2,"y":0.5},{"s":"r","x":57.6,"y":0.5},{"s":"r","x":57.8,"y":2.0},{"s":"r","x":58.1,"y":0.5},{"s":"r","x":69.6,"y":0.5},{"s":"r","x":69.8,"y":1.6},{"s":"r","x":70.1,"y":0.5},{"s":"r","x":71,"y":0.5},{"s":"r","x":71.2,"y":1.5},{"s":"r","x":71.5,"y":0.5},{"s":"r","x":72.7,"y":0.5},{"s":"r","x":72.9,"y":2.1},{"s":"r","x":73.2,"y":0.5},
{"s":"g","x":3.3,"y":0.5},{"s":"g","x":3.6,"y":1},{"s":"g","x":4.4,"y":6.3},{"s":"g","x":4.8,"y":5.5},{"s":"g","x":5.2,"y":1.98},{"s":"g","x":5.5,"y":3.9},{"s":"g","x":6,"y":3.9},{"s":"g","x":6.5,"y":2.25},{"s":"g","x":6.8,"y":0.5},{"s":"g","x":7.2,"y":0.5},{"s":"g","x":7.5,"y":4.8},{"s":"g","x":7.9,"y":2.6},{"s":"g","x":8.2,"y":0.5},{"s":"g","x":8.7,"y":4.5},{"s":"g","x":9.3,"y":5.1},{"s":"g","x":9.9,"y":6.7},{"s":"g","x":10.4,"y":4.8},{"s":"g","x":10.8,"y":0.5},{"s":"g","x":12.8,"y":0.5},{"s":"g","x":13.1,"y":2.1},{"s":"g","x":13.4,"y":0.5},{"s":"g","x":14.1,"y":0.5},{"s":"g","x":14.5,"y":4.2},{"s":"g","x":14.8,"y":2.96},{"s":"g","x":15.3,"y":0.5},{"s":"g","x":15.8,"y":1.96},{"s":"g","x":16.1,"y":0.5},{"s":"g","x":16.6,"y":2.4},{"s":"g","x":16.9,"y":0.5},{"s":"g","x":18.9,"y":0.5},{"s":"g","x":19.2,"y":1.96},{"s":"g","x":19.5,"y":0.5},{"s":"g","x":20.1,"y":0.5},{"s":"g","x":20.4,"y":2.6},{"s":"g","x":20.8,"y":0.5},{"s":"g","x":21.9,"y":0.5},{"s":"g","x":22.2,"y":2.6},{"s":"g","x":22.6,"y":0.5},{"s":"g","x":23.9,"y":0.5},{"s":"g","x":24.2,"y":1.96},{"s":"g","x":24.5,"y":0.5},{"s":"g","x":26,"y":0.5},{"s":"g","x":26.3,"y":2.0},{"s":"g","x":26.6,"y":0.5},{"s":"g","x":27.4,"y":0.5},{"s":"g","x":27.7,"y":2.2},{"s":"g","x":28,"y":0.5},{"s":"g","x":29.2,"y":0.5},{"s":"g","x":29.5,"y":2.5},{"s":"g","x":29.8,"y":1.5},{"s":"g","x":30.1,"y":0.5},{"s":"g","x":30.6,"y":0.5},{"s":"g","x":30.8,"y":2.0},{"s":"g","x":31.1,"y":0.5},{"s":"g","x":32.5,"y":0.5},{"s":"g","x":32.8,"y":2.0},{"s":"g","x":33.1,"y":0.5},{"s":"g","x":33.9,"y":0.5},{"s":"g","x":34.2,"y":2.0},{"s":"g","x":34.5,"y":0.5},{"s":"g","x":35.7,"y":0.5},{"s":"g","x":36,"y":2.0},{"s":"g","x":36.3,"y":0.5},{"s":"g","x":38.2,"y":0.5},{"s":"g","x":38.5,"y":2.0},{"s":"g","x":38.8,"y":0.5},{"s":"g","x":40.1,"y":0.5},{"s":"g","x":40.4,"y":2.0},{"s":"g","x":40.7,"y":1.5},{"s":"g","x":41,"y":2.0},{"s":"g","x":41.3,"y":0.5},{"s":"g","x":46.6,"y":0.5},{"s":"g","x":47,"y":4.0},{"s":"g","x":47.3,"y":1.5},{"s":"g","x":47.6,"y":0.5},{"s":"g","x":48.1,"y":0.5},{"s":"g","x":48.4,"y":3.3},{"s":"g","x":48.7,"y":2.0},{"s":"g","x":49,"y":1.5},{"s":"g","x":49.3,"y":0.5},{"s":"g","x":51.7,"y":0.5},{"s":"g","x":52,"y":1.5},{"s":"g","x":52.3,"y":0.5},{"s":"g","x":53.9,"y":0.5},{"s":"g","x":54.2,"y":1.5},{"s":"g","x":54.5,"y":0.5},{"s":"g","x":56.6,"y":0.5},{"s":"g","x":56.9,"y":2.2},{"s":"g","x":57.2,"y":0.5},{"s":"g","x":63.7,"y":0.5},{"s":"g","x":64,"y":1.5},{"s":"g","x":64.3,"y":1.0},{"s":"g","x":64.6,"y":0.5},{"s":"g","x":65.2,"y":0.5},{"s":"g","x":65.5,"y":4.8},{"s":"g","x":65.8,"y":2.0},{"s":"g","x":66.1,"y":0.5},{"s":"g","x":66.3,"y":0.5},{"s":"g","x":66.6,"y":2.0},{"s":"g","x":66.9,"y":0.5},{"s":"g","x":68.2,"y":0.5},{"s":"g","x":68.5,"y":2.0},{"s":"g","x":68.8,"y":0.5},
{"s":"b","x":0,"y":1.62},{"s":"b","x":0.4,"y":1.05},{"s":"b","x":0.7,"y":0.5},{"s":"b","x":3.3,"y":0.5},{"s":"b","x":3.6,"y":1},{"s":"b","x":4.1,"y":13.5},{"s":"b","x":4.5,"y":13.4},{"s":"b","x":4.8,"y":3.9},{"s":"b","x":5.1,"y":1.65},{"s":"b","x":5.4,"y":6.1},{"s":"b","x":5.9,"y":5.9},{"s":"b","x":6.4,"y":4.2},{"s":"b","x":6.8,"y":4.8},{"s":"b","x":7.3,"y":7.5},{"s":"b","x":7.8,"y":7},{"s":"b","x":8.1,"y":3.2},{"s":"b","x":8.5,"y":0.5},{"s":"b","x":8.8,"y":0.5},{"s":"b","x":9.3,"y":4.5},{"s":"b","x":9.6,"y":14.3},{"s":"b","x":10,"y":10.9},{"s":"b","x":10.4,"y":13.8},{"s":"b","x":10.8,"y":6.3},{"s":"b","x":11.3,"y":5},{"s":"b","x":11.6,"y":5.9},{"s":"b","x":12,"y":7.2},{"s":"b","x":12.4,"y":1.4},{"s":"b","x":12.7,"y":1.5},{"s":"b","x":13.1,"y":0.5},{"s":"b","x":13.5,"y":1.96},{"s":"b","x":14,"y":2.5},{"s":"b","x":14.4,"y":1.8},{"s":"b","x":14.8,"y":2.4},{"s":"b","x":15.3,"y":1.96},{"s":"b","x":15.6,"y":3.6},{"s":"b","x":16,"y":4.2},{"s":"b","x":16.4,"y":12.5},{"s":"b","x":16.6,"y":4.5},{"s":"b","x":16.8,"y":2.25},{"s":"b","x":17.3,"y":2.25},{"s":"b","x":17.6,"y":1.5},{"s":"b","x":17.9,"y":0.5},{"s":"b","x":19.1,"y":0.5},{"s":"b","x":19.4,"y":1.96},{"s":"b","x":19.7,"y":0.5},{"s":"b","x":20.2,"y":0.5},{"s":"b","x":20.4,"y":1.96},{"s":"b","x":20.7,"y":0.5},{"s":"b","x":24.2,"y":0.5},{"s":"b","x":24.5,"y":4.3},{"s":"b","x":24.8,"y":2.6},{"s":"b","x":25.3,"y":1.96},{"s":"b","x":25.8,"y":1.7},{"s":"b","x":26.1,"y":0.5},{"s":"b","x":28.8,"y":0.5},{"s":"b","x":29.1,"y":4.8},{"s":"b","x":29.4,"y":0.5},{"s":"b","x":30.8,"y":0.5},{"s":"b","x":31,"y":1.96},{"s":"b","x":31.3,"y":0.5},{"s":"b","x":32.6,"y":0.5},{"s":"b","x":32.8,"y":1.96},{"s":"b","x":33.1,"y":0.5},{"s":"b","x":34.6,"y":0.5},{"s":"b","x":34.8,"y":2.0},{"s":"b","x":35.1,"y":0.5},{"s":"b","x":36.8,"y":0.5},{"s":"b","x":37,"y":2.0},{"s":"b","x":37.3,"y":0.5},{"s":"b","x":39.9,"y":0.5},{"s":"b","x":40.1,"y":2.0},{"s":"b","x":40.4,"y":0.5},{"s":"b","x":41.8,"y":0.5},{"s":"b","x":42,"y":2.5},{"s":"b","x":42.3,"y":0.5},{"s":"b","x":44.1,"y":0.5},{"s":"b","x":44.3,"y":1.6},{"s":"b","x":44.6,"y":0.5},{"s":"b","x":45.2,"y":0.5},{"s":"b","x":45.4,"y":2.5},{"s":"b","x":45.7,"y":0.5},{"s":"b","x":47.1,"y":0.5},{"s":"b","x":47.3,"y":2.0},{"s":"b","x":47.6,"y":0.5},{"s":"b","x":49.7,"y":0.5},{"s":"b","x":49.9,"y":2.5},{"s":"b","x":50.2,"y":0.5},{"s":"b","x":51.1,"y":0.5},{"s":"b","x":51.3,"y":2.5},{"s":"b","x":51.6,"y":0.5},{"s":"b","x":52.9,"y":0.5},{"s":"b","x":53.1,"y":2.0},{"s":"b","x":53.4,"y":0.5},{"s":"b","x":53.8,"y":0.5},{"s":"b","x":54,"y":2.5},{"s":"b","x":54.3,"y":0.5},{"s":"b","x":55.3,"y":0.5},{"s":"b","x":55.5,"y":2.5},{"s":"b","x":56,"y":2.5},{"s":"b","x":56.2,"y":0.5},{"s":"b","x":63.2,"y":0.5},{"s":"b","x":63.4,"y":2.5},{"s":"b","x":63.7,"y":0.5},{"s":"b","x":70.2,"y":0.5},{"s":"b","x":70.4,"y":1.6},{"s":"b","x":70.7,"y":1.0},{"s":"b","x":71,"y":0.5},{"s":"b","x":71.4,"y":0.5},{"s":"b","x":71.6,"y":2.5},{"s":"b","x":71.9,"y":0.5},
{"s":"p","x":0,"y":1.6},{"s":"p","x":0.4,"y":1.13},{"s":"p","x":0.8,"y":1.05},{"s":"p","x":1.3,"y":1.17},{"s":"p","x":1.8,"y":1.7},{"s":"p","x":2.2,"y":3.2},{"s":"p","x":2.5,"y":4.5},{"s":"p","x":2.9,"y":2.86},{"s":"p","x":3.4,"y":5.1},{"s":"p","x":3.9,"y":12.5},{"s":"p","x":4.4,"y":30.5},{"s":"p","x":4.8,"y":25.7},{"s":"p","x":5.3,"y":17.6},{"s":"p","x":6,"y":9.5},{"s":"p","x":6.5,"y":14.3},{"s":"p","x":6.9,"y":17},{"s":"p","x":7.4,"y":16.4},{"s":"p","x":7.9,"y":19.5},{"s":"p","x":8.4,"y":25.7},{"s":"p","x":8.8,"y":36},{"s":"p","x":9.3,"y":37.5},{"s":"p","x":9.8,"y":43},{"s":"p","x":10.2,"y":42},{"s":"p","x":10.7,"y":28.5},{"s":"p","x":11.2,"y":17.6},{"s":"p","x":11.6,"y":17},{"s":"p","x":12.1,"y":14.3},{"s":"p","x":12.6,"y":12.1},{"s":"p","x":13.1,"y":16.4},{"s":"p","x":13.5,"y":11.7},{"s":"p","x":14,"y":9.5},{"s":"p","x":14.5,"y":6.3},{"s":"p","x":15.1,"y":5.6},{"s":"p","x":15.7,"y":5.6},{"s":"p","x":16.3,"y":6.2},{"s":"p","x":16.9,"y":5.1},{"s":"p","x":17.3,"y":4.5},{"s":"p","x":17.8,"y":2.33},{"s":"p","x":18.2,"y":1.05},{"s":"p","x":18.6,"y":4.2},{"s":"p","x":19.2,"y":2.25},{"s":"p","x":19.8,"y":3.2},{"s":"p","x":20.2,"y":1.49},{"s":"p","x":20.7,"y":3.6},{"s":"p","x":21.2,"y":2.96},{"s":"p","x":21.6,"y":3.4},{"s":"p","x":22.1,"y":3.75},{"s":"p","x":22.6,"y":3.4},{"s":"p","x":23.1,"y":3.7},{"s":"p","x":23.6,"y":3.4},{"s":"p","x":24.2,"y":3.6},{"s":"p","x":24.8,"y":3.4},{"s":"p","x":25.3,"y":1.49},{"s":"p","x":25.7,"y":3.2},{"s":"p","x":26.3,"y":1.13},{"s":"p","x":26.9,"y":1.05},{"s":"p","x":27.3,"y":2.96},{"s":"p","x":27.8,"y":3.4},{"s":"p","x":28.2,"y":1.96},{"s":"p","x":28.6,"y":3.2},{"s":"p","x":29.1,"y":1.05},{"s":"p","x":29.5,"y":1.96},{"s":"p","x":30.1,"y":1.3},{"s":"p","x":30.7,"y":2.4},{"s":"p","x":31.3,"y":1.96},{"s":"p","x":31.9,"y":1.05},{"s":"p","x":32.5,"y":2.25},{"s":"p","x":32.9,"y":1.13},{"s":"p","x":33.3,"y":0.5},{"s":"p","x":35.5,"y":0.5},{"s":"p","x":35.9,"y":3.6},{"s":"p","x":36.6,"y":1.96},{"s":"p","x":37.2,"y":0.5},{"s":"p","x":37.5,"y":0.5},{"s":"p","x":37.9,"y":2.25},{"s":"p","x":38.5,"y":6.3},{"s":"p","x":38.9,"y":2.25},{"s":"p","x":39.4,"y":0.5},{"s":"p","x":40.2,"y":0.5},{"s":"p","x":40.7,"y":1.5},{"s":"p","x":41.2,"y":2.0},{"s":"p","x":41.7,"y":0.5},{"s":"p","x":43.5,"y":0.5},{"s":"p","x":44,"y":3.0},{"s":"p","x":44.5,"y":1.5},{"s":"p","x":45,"y":2.7},{"s":"p","x":45.5,"y":0.5},{"s":"p","x":46,"y":2.5},{"s":"p","x":46.5,"y":1.2},{"s":"p","x":47,"y":0.5},{"s":"p","x":48,"y":0.5},{"s":"p","x":48.4,"y":2.0},{"s":"p","x":48.8,"y":0.5},
{"s":"w","x":0,"y":2.44},{"s":"w","x":0.4,"y":2.76},{"s":"w","x":1,"y":5.1},{"s":"w","x":1.4,"y":2.4},{"s":"w","x":1.9,"y":4.8},{"s":"w","x":2.3,"y":3.6},{"s":"w","x":2.8,"y":4.5},{"s":"w","x":3.1,"y":2.96},{"s":"w","x":3.6,"y":7.2},{"s":"w","x":4.1,"y":35},{"s":"w","x":4.6,"y":45},{"s":"w","x":5.1,"y":47.6},{"s":"w","x":5.5,"y":40},{"s":"w","x":6,"y":37},{"s":"w","x":6.5,"y":54},{"s":"w","x":6.9,"y":54},{"s":"w","x":7.4,"y":65},{"s":"w","x":7.9,"y":77},{"s":"w","x":8.4,"y":98},{"s":"w","x":8.8,"y":143},{"s":"w","x":9.3,"y":224},{"s":"w","x":9.8,"y":230},{"s":"w","x":10.2,"y":200},{"s":"w","x":10.7,"y":148},{"s":"w","x":11.2,"y":105},{"s":"w","x":11.6,"y":101},{"s":"w","x":12.1,"y":80},{"s":"w","x":12.6,"y":63},{"s":"w","x":13.1,"y":55},{"s":"w","x":13.5,"y":49},{"s":"w","x":14.1,"y":29},{"s":"w","x":14.5,"y":29},{"s":"w","x":15.1,"y":37.5},{"s":"w","x":15.7,"y":37.5},{"s":"w","x":16.1,"y":39},{"s":"w","x":16.6,"y":34},{"s":"w","x":17.2,"y":26.6},{"s":"w","x":17.8,"y":21.6},{"s":"w","x":18.4,"y":18.9},{"s":"w","x":18.8,"y":17},{"s":"w","x":19.2,"y":18.2},{"s":"w","x":19.8,"y":16.4},{"s":"w","x":20.4,"y":15.4},{"s":"w","x":21,"y":14.3},{"s":"w","x":21.6,"y":11},{"s":"w","x":22,"y":15.4},{"s":"w","x":22.5,"y":12},{"s":"w","x":23.1,"y":10},{"s":"w","x":23.5,"y":12.5},{"s":"w","x":24.1,"y":9.5},{"s":"w","x":24.7,"y":7.5},{"s":"w","x":25.1,"y":9.2},{"s":"w","x":25.5,"y":4.5},{"s":"w","x":26,"y":7.2},{"s":"w","x":26.5,"y":4.8},{"s":"w","x":26.9,"y":6.7},{"s":"w","x":27.5,"y":5},{"s":"w","x":28.1,"y":5.1},{"s":"w","x":28.6,"y":5.7},{"s":"w","x":29.2,"y":5},{"s":"w","x":29.8,"y":4.5},{"s":"w","x":30.4,"y":5.1},{"s":"w","x":31,"y":6.1},{"s":"w","x":31.6,"y":4.3},{"s":"w","x":32.2,"y":4.6},{"s":"w","x":32.8,"y":3.6},{"s":"w","x":33.4,"y":5.5},{"s":"w","x":33.9,"y":5.7},{"s":"w","x":34.5,"y":4.2},{"s":"w","x":35.1,"y":2.25},{"s":"w","x":35.7,"y":2.25},{"s":"w","x":36.3,"y":1.7},{"s":"w","x":36.9,"y":1.1},{"s":"w","x":37.5,"y":3},{"s":"w","x":38.1,"y":2.6},{"s":"w","x":38.6,"y":3.9},{"s":"w","x":39.2,"y":2.76},{"s":"w","x":39.8,"y":4.6},{"s":"w","x":40.4,"y":5.9},{"s":"w","x":41,"y":4.5},{"s":"w","x":41.5,"y":4.2},{"s":"w","x":42,"y":5.3},{"s":"w","x":42.5,"y":3.5},{"s":"w","x":43,"y":4.8},{"s":"w","x":43.5,"y":2.6},{"s":"w","x":44,"y":2.9},{"s":"w","x":44.5,"y":2.3},{"s":"w","x":45,"y":3.1},{"s":"w","x":45.5,"y":2.6},{"s":"w","x":46,"y":2.4},{"s":"w","x":46.5,"y":3.3},{"s":"w","x":47,"y":4.8},{"s":"w","x":47.5,"y":2.3},{"s":"w","x":48,"y":3.2},{"s":"w","x":48.5,"y":2.8},{"s":"w","x":49,"y":3.6},{"s":"w","x":49.5,"y":2.6},{"s":"w","x":50,"y":2.9}
],
"br":[
{"s":"c","x":78,"y":1},{"s":"c","x":78.5,"y":0.3},{"s":"c","x":78.95,"y":1.8},{"s":"c","x":79.2,"y":4},{"s":"c","x":79.35,"y":7},{"s":"c","x":79.5,"y":8.5},{"s":"c","x":79.7,"y":13},{"s":"c","x":79.85,"y":16.7},{"s":"c","x":80,"y":23.4},{"s":"c","x":80.15,"y":29.4},{"s":"c","x":80.3,"y":33.9},{"s":"c","x":80.5,"y":42.8},{"s":"c","x":80.65,"y":47.3},{"s":"c","x":80.8,"y":54.8},{"s":"c","x":80.9,"y":59.3},{"s":"c","x":81.05,"y":60},{"s":"c","x":81.2,"y":71.2},{"s":"c","x":81.35,"y":83},{"s":"c","x":81.45,"y":95},{"s":"c","x":81.55,"y":107.8},{"s":"c","x":81.65,"y":108.5},{"s":"c","x":81.75,"y":95},{"s":"c","x":81.9,"y":77},{"s":"c","x":82,"y":54.8},{"s":"c","x":82.1,"y":32.4},{"s":"c","x":82.2,"y":17.5},{"s":"c","x":82.35,"y":8.5},{"s":"c","x":82.6,"y":4.8},{"s":"c","x":82.8,"y":3.3},{"s":"c","x":83.05,"y":3.3},{"s":"c","x":83.45,"y":3},{"s":"c","x":83.95,"y":1.8},{"s":"c","x":84.6,"y":1},{"s":"c","x":85.4,"y":0.5},
{"s":"r","x":79.6,"y":1},{"s":"r","x":80.1,"y":4},{"s":"r","x":80.4,"y":7},{"s":"r","x":80.65,"y":13},{"s":"r","x":80.9,"y":20.4},{"s":"r","x":81.1,"y":32.4},{"s":"r","x":81.4,"y":44.3},{"s":"r","x":81.6,"y":59.3},{"s":"r","x":81.8,"y":72.7},{"s":"r","x":81.95,"y":89},{"s":"r","x":82.1,"y":104},{"s":"r","x":82.2,"y":114.5},{"s":"r","x":82.35,"y":118},{"s":"r","x":82.5,"y":113},{"s":"r","x":82.6,"y":99.6},{"s":"r","x":82.75,"y":74},{"s":"r","x":82.85,"y":54.8},{"s":"r","x":83,"y":32.4},{"s":"r","x":83.1,"y":17.5},{"s":"r","x":83.3,"y":8.5},{"s":"r","x":83.45,"y":4},{"s":"r","x":83.8,"y":1.8},{"s":"r","x":84.4,"y":0.5},
{"s":"g","x":79.45,"y":0.5},{"s":"g","x":79.9,"y":2.5},{"s":"g","x":80.25,"y":4},{"s":"g","x":80.5,"y":7},{"s":"g","x":80.7,"y":10},{"s":"g","x":80.9,"y":14.5},{"s":"g","x":81.1,"y":26.4},{"s":"g","x":81.4,"y":38.4},{"s":"g","x":81.6,"y":54.8},{"s":"g","x":81.8,"y":66.7},{"s":"g","x":81.95,"y":80},{"s":"g","x":82.1,"y":95},{"s":"g","x":82.2,"y":107},{"s":"g","x":82.4,"y":116},{"s":"g","x":82.5,"y":114.5},{"s":"g","x":82.6,"y":104},{"s":"g","x":82.7,"y":92},{"s":"g","x":82.8,"y":74},{"s":"g","x":82.95,"y":54.8},{"s":"g","x":83.1,"y":32.4},{"s":"g","x":83.2,"y":16},{"s":"g","x":83.4,"y":7},{"s":"g","x":83.6,"y":4},{"s":"g","x":83.9,"y":5.5},{"s":"g","x":84.1,"y":2.5},{"s":"g","x":84.4,"y":1},{"s":"g","x":84.75,"y":0.3},
{"s":"b","x":78,"y":0.7},{"s":"b","x":78.5,"y":1.8},{"s":"b","x":78.8,"y":0.5},{"s":"b","x":79.05,"y":2.5},{"s":"b","x":79.2,"y":1},{"s":"b","x":79.3,"y":3.3},{"s":"b","x":79.5,"y":1.8},{"s":"b","x":79.75,"y":3.3},{"s":"b","x":80,"y":4.8},{"s":"b","x":80.25,"y":7},{"s":"b","x":80.4,"y":16},{"s":"b","x":80.55,"y":14.5},{"s":"b","x":80.75,"y":26.4},{"s":"b","x":80.95,"y":33.9},{"s":"b","x":81.1,"y":45.8},{"s":"b","x":81.35,"y":56.3},{"s":"b","x":81.55,"y":68.2},{"s":"b","x":81.7,"y":83},{"s":"b","x":81.9,"y":95},{"s":"b","x":82.05,"y":105.5},{"s":"b","x":82.2,"y":116},{"s":"b","x":82.4,"y":117.5},{"s":"b","x":82.55,"y":118.2},{"s":"b","x":82.65,"y":110},{"s":"b","x":82.8,"y":92},{"s":"b","x":82.9,"y":74},{"s":"b","x":83.05,"y":53.3},{"s":"b","x":83.2,"y":33.9},{"s":"b","x":83.35,"y":17.5},{"s":"b","x":83.5,"y":8.5},{"s":"b","x":83.7,"y":5.5},{"s":"b","x":83.95,"y":4},{"s":"b","x":84.3,"y":2.8},{"s":"b","x":84.75,"y":1.8},{"s":"b","x":85.4,"y":1},{"s":"b","x":86,"y":0.5},
{"s":"p","x":78,"y":1.8},{"s":"p","x":78.3,"y":1},{"s":"p","x":78.6,"y":0.3},{"s":"p","x":79.3,"y":1},{"s":"p","x":79.6,"y":4},{"s":"p","x":79.85,"y":2.5},{"s":"p","x":80.1,"y":7},{"s":"p","x":80.25,"y":9.3},{"s":"p","x":80.4,"y":11.5},{"s":"p","x":80.55,"y":17.5},{"s":"p","x":80.7,"y":25},{"s":"p","x":80.9,"y":33.9},{"s":"p","x":81.1,"y":44.3},{"s":"p","x":81.3,"y":56.3},{"s":"p","x":81.45,"y":68.2},{"s":"p","x":81.55,"y":72.7},{"s":"p","x":81.7,"y":81.6},{"s":"p","x":81.85,"y":92},{"s":"p","x":82,"y":104},{"s":"p","x":82.2,"y":114.5},{"s":"p","x":82.35,"y":117.5},{"s":"p","x":82.45,"y":113},{"s":"p","x":82.6,"y":105.5},{"s":"p","x":82.75,"y":89},{"s":"p","x":82.85,"y":72.7},{"s":"p","x":83,"y":54.8},{"s":"p","x":83.1,"y":35.4},{"s":"p","x":83.25,"y":20.4},{"s":"p","x":83.4,"y":11.5},{"s":"p","x":83.55,"y":7},{"s":"p","x":83.8,"y":4.8},{"s":"p","x":84.1,"y":4},{"s":"p","x":84.45,"y":3.3},{"s":"p","x":84.75,"y":3.3},{"s":"p","x":85.25,"y":2.5},{"s":"p","x":85.7,"y":1.8},{"s":"p","x":86.4,"y":1.3},{"s":"p","x":87,"y":1},{"s":"p","x":88,"y":0.7},{"s":"p","x":88.95,"y":0.7},
{"s":"w","x":78,"y":1.8},{"s":"w","x":78.2,"y":0.5},{"s":"w","x":78.3,"y":0},{"s":"w","x":80.1,"y":0},{"s":"w","x":80.25,"y":0.3},{"s":"w","x":80.4,"y":4},{"s":"w","x":80.55,"y":5.5},{"s":"w","x":80.7,"y":6.3},{"s":"w","x":80.9,"y":10},{"s":"w","x":81.05,"y":11.5},{"s":"w","x":81.2,"y":17.5},{"s":"w","x":81.4,"y":23.4},{"s":"w","x":81.55,"y":33.9},{"s":"w","x":81.7,"y":41.3},{"s":"w","x":81.85,"y":50.3},{"s":"w","x":82,"y":60.7},{"s":"w","x":82.2,"y":66.7},{"s":"w","x":82.35,"y":71.2},{"s":"w","x":82.45,"y":71.2},{"s":"w","x":82.6,"y":77},{"s":"w","x":82.7,"y":81.6},{"s":"w","x":82.85,"y":78.7},{"s":"w","x":83,"y":81},{"s":"w","x":83.15,"y":80},{"s":"w","x":83.3,"y":72.7},{"s":"w","x":83.45,"y":60.7},{"s":"w","x":83.65,"y":44.3},{"s":"w","x":83.8,"y":26.4},{"s":"w","x":83.95,"y":13},{"s":"w","x":84.1,"y":7},{"s":"w","x":84.35,"y":4},{"s":"w","x":84.7,"y":2.5},{"s":"w","x":85.1,"y":1.8},{"s":"w","x":85.7,"y":1}
]},
"concat":[
{"width":459,"height":267,"data":{"name":"tl"},
"mark":{"type":"line","strokeWidth":1.6,"clip":true},
"encoding":{
"x":{"field":"x","type":"quantitative","scale":{"domain":[-1,150.5],"nice":false,"zero":false},"axis":{"title":"Kinetic Energy (eV)","values":[0,20,40,60,80,100,120,140]}},
"y":{"field":"y","type":"quantitative","scale":{"type":"log","domain":[0.1,1000],"nice":false},"axis":{"title":"Signal (c/s x10)","titlePadding":-3,"labelPadding":10,"tickSize":{"condition":{"test":"!(datum.value==0.1||datum.value==1||datum.value==10||datum.value==100||datum.value==1000)","value":4},"value":8},"labelFontSize":{"condition":{"test":"!(datum.value==0.1||datum.value==1||datum.value==10||datum.value==100)","value":1},"value":18},"values":[0.1,0.2,0.3,0.4,0.5,0.6,0.7,0.8,0.9,1,2,3,4,5,6,7,8,9,10,20,30,40,50,60,70,80,90,100,200,300,400,500,600,700,800,900,1000],"labelExpr":"datum.value==0.1?'0.1':datum.value==1?'1':datum.value==10?'10':datum.value==100?'100':''"}},
"color":{"field":"s","type":"nominal","scale":{"domain":["k","r","g","b","p","w"],"range":["#000000","#ff4040","#009900","#0000ff","#990099","#c0c0c0"]},
"legend":{"title":["P-Polarization","Pump Spectrum"],"symbolType":"M-0.8,0H2.5","symbolSize":400,"symbolStrokeWidth":1.6,"labelExpr":"datum.label=='k'?'F=\u00a0\u00a055J/m²':datum.label=='r'?'F=110J/m²':datum.label=='g'?'F=185J/m²':datum.label=='b'?'F=275J/m²':datum.label=='p'?'F=370J/m²':'F=460J/m²'"}}}},
{"width":458,"height":267,"data":{"name":"tr"},
"mark":{"type":"line","strokeWidth":1.6,"clip":true},
"encoding":{
"x":{"field":"x","type":"quantitative","scale":{"domain":[77.8,100],"nice":false,"zero":false},"axis":{"title":"Kinetic Energy (eV)","values":[80,85,90,95,100]}},
"y":{"field":"y","type":"quantitative","scale":{"domain":[0,109],"nice":false},"axis":{"title":"Signal (c/s x10)","values":[0,20,40,60,80,100]}},
"color":{"field":"s","type":"nominal","scale":{"domain":["c","k","r","g","b","p","w"],"range":["#00ffff","#000000","#ff4040","#009900","#0000ff","#990099","#c0c0c0"]},
"legend":{"title":["P-Polarization","Probe Spectrum"],"symbolType":"M-0.8,0H2.5","symbolSize":400,"symbolStrokeWidth":1.6,"labelExpr":"datum.label=='c'?'Cold':datum.label=='k'?'F=55J/m²':datum.label=='r'?'F=110J/m²':datum.label=='g'?'F=185J/m²':datum.label=='b'?'F=275J/m²':datum.label=='p'?'F=370J/m²':'F=460J/m²'"}}}},
{"width":459,"height":267,"data":{"name":"bl"},
"mark":{"type":"line","strokeWidth":1.6,"clip":true},
"encoding":{
"x":{"field":"x","type":"quantitative","scale":{"domain":[-0.5,80],"nice":false,"zero":false},"axis":{"title":"Kinetic Energy (eV)","values":[0,20,40,60,80]}},
"y":{"field":"y","type":"quantitative","scale":{"type":"log","domain":[1,240],"nice":false},"axis":{"title":"Signal (c/s)","labelPadding":3,"tickSize":{"condition":{"test":"datum.value==3||datum.value==5||datum.value==7||datum.value==8||datum.value==9||datum.value==30||datum.value==50||datum.value==70||datum.value==80||datum.value==90","value":4},"value":6},"values":[1,2,3,4,5,6,7,8,9,10,20,30,40,50,60,70,80,90,100,200],"labelExpr":"datum.value==1?'1':datum.value==10?'10':datum.value==100?'100':(datum.value==2||datum.value==20||datum.value==200)?'2':(datum.value==4||datum.value==40)?'4':(datum.value==6||datum.value==60)?'6':''","labelFontSize":{"condition":{"test":"datum.value==1||datum.value==10||datum.value==100","value":18},"value":12}}},
"color":{"field":"s","type":"nominal","scale":{"domain":["r","g","b","p","w"],"range":["#ff4040","#009900","#0000ff","#990099","#c0c0c0"]},
"legend":{"title":["S-Polarization","Pump Spectrum"],"symbolType":"M-0.8,0H2.5","symbolSize":400,"symbolStrokeWidth":1.6,"labelExpr":"datum.label=='r'?'F=110J/m²':datum.label=='g'?'F=185J/m²':datum.label=='b'?'F=275J/m²':datum.label=='p'?'F=370J/m²':'F=460J/m²'"}}}},
{"width":458,"height":267,"data":{"name":"br"},
"mark":{"type":"line","strokeWidth":1.6,"clip":true},
"encoding":{
"x":{"field":"x","type":"quantitative","scale":{"domain":[77.8,100],"nice":false,"zero":false},"axis":{"title":"Kinetic Energy (eV)","values":[80,85,90,95,100]}},
"y":{"field":"y","type":"quantitative","scale":{"domain":[0,119],"nice":false},"axis":{"title":"Signal (c/s x10)","values":[0,20,40,60,80,100]}},
"color":{"field":"s","type":"nominal","scale":{"domain":["c","r","g","b","p","w"],"range":["#00ffff","#ff4040","#009900","#0000ff","#990099","#c0c0c0"]},
"legend":{"title":["S-Polarization","Probe Spectrum"],"symbolType":"M-0.8,0H2.5","symbolSize":400,"symbolStrokeWidth":1.6,"labelExpr":"datum.label=='c'?'Cold':datum.label=='r'?'F=110J/m²':datum.label=='g'?'F=185J/m²':datum.label=='b'?'F=275J/m²':datum.label=='p'?'F=370J/m²':'F=460J/m²'"}}}}
],
"columns":2,
"spacing":{"row":15,"column":30},
"resolve":{"scale":{"color":"independent"},"legend":{"color":"independent"}}
}
